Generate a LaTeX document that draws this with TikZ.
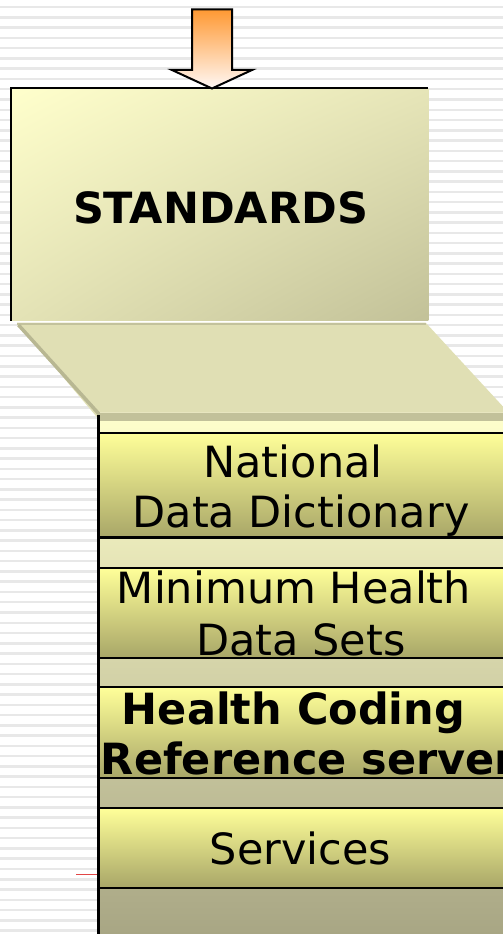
\documentclass[tikz,border=0pt]{standalone}
\usepackage{fontspec}
\setmainfont{DejaVu Sans}
\usetikzlibrary{shadings}
\definecolor{stripe}{HTML}{E8E8E8}
\definecolor{stdUL}{HTML}{FFFFCC}
\definecolor{stdUR}{HTML}{E6E5B8}
\definecolor{stdLL}{HTML}{E4E3B6}
\definecolor{stdLR}{HTML}{C2C198}
\definecolor{bevface}{HTML}{E0DFB4}
\definecolor{bevedge}{HTML}{B8B792}
\definecolor{bevtop}{HTML}{C3C29C}
\definecolor{bevbot}{HTML}{C2C19A}
\definecolor{bevlight}{HTML}{E8E6C0}
\definecolor{colTop}{HTML}{FFFFCC}
\definecolor{colMid}{HTML}{DCDAB0}
\definecolor{colBot}{HTML}{A8A684}
\definecolor{boxtop}{HTML}{FFFF99}
\definecolor{boxmid}{HTML}{DEDC88}
\definecolor{boxbot}{HTML}{A8A668}
\definecolor{arrtop}{HTML}{FF9933}
\definecolor{arrbot}{HTML}{FFF8F5}
\definecolor{redmark}{HTML}{E24646}
\begin{document}
\begin{tikzpicture}[x=1pt,y=-1pt,
  lbl/.style={inner sep=0pt, anchor=base, font=\fontsize{43}{50}\selectfont},
  lblb/.style={inner sep=0pt, anchor=base, font=\fontsize{43}{50}\selectfont\bfseries},
  layerbox/.style={draw=black, line width=2.1pt, top color=boxtop, middle color=boxmid, bottom color=boxbot}]
\useasboundingbox (0,0) rectangle (503,934);
\fill[white] (0,0) rectangle (503,934);
% background stripes
\foreach \k in {0,...,91} {
  \fill[stripe] (0,{5.9+\k*10.26}) rectangle (503,{8.4+\k*10.26});
}
% column
\shade[top color=colTop, middle color=colMid, bottom color=colBot] (98,413) rectangle (530,934);
% bevel
\fill[bevface] (17,322.7) -- (425.7,322.7) -- (516,420.7) -- (100,420.7) -- cycle;
\fill[bevtop] (17,322.7) rectangle (425.7,325.3);
\draw[bevedge, line width=3.5pt] (18.5,325) -- (100.8,416);
\fill[bevlight] (100,411.8) rectangle (530,413.2);
\fill[bevbot] (100,413.2) rectangle (530,420.7);
\draw[line width=2.7pt] (98.6,415) -- (98.6,934);
% layer boxes
\path[layerbox] (98.7,432.7) rectangle (530,537.5);
\path[layerbox] (98.7,567.7) rectangle (530,657.7);
\path[layerbox] (98.7,687.3) rectangle (530,777.7);
\path[layerbox] (98.7,808.3) rectangle (530,887.7);
% standards box
\shade[upper left=stdUL, upper right=stdUR, lower left=stdLL, lower right=stdLR] (10,88) rectangle (428.3,320.7);
\draw[line width=2.2pt] (11,320.7) -- (11,88.3) -- (428.3,88.3);
% arrow
\shade[draw=black, line width=2pt, top color=arrtop, bottom color=arrbot, line join=miter]
  (192,9.5) -- (232,9.5) -- (232,70) -- (252,70) -- (212,88.5) -- (172,70) -- (192,70) -- cycle;
% red mark
\draw[redmark, line width=1pt] (76,874) -- (97,874);
% texts
\node[lblb] (std) at (220.5,223) {STANDARDS};
\node[lbl] (ndd1) at (293,477) {National};
\node[lbl] (ndd2) at (301,527) {Data Dictionary};
\node[lbl] (mhd1) at (294,603) {Minimum Health};
\node[lbl] (mhd2) at (301,655) {Data Sets};
\node[lblb] (hcr1) at (293.5,724) {Health Coding};
\node[lblb] (hcr2) at (308.5,774) {Reference server};
\node[lbl] (srv) at (300.5,864) {Services};
\end{tikzpicture}
\end{document}
